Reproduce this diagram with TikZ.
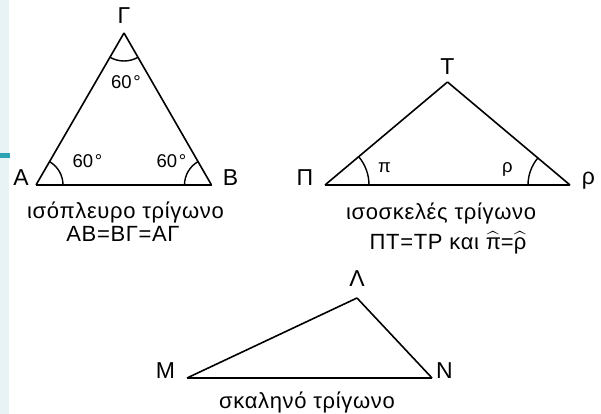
\documentclass[tikz,border=0pt]{standalone}
\usepackage{fontspec}
\setmainfont{Liberation Sans}
\newfontfamily\captfont[LetterSpace=3]{Liberation Sans}
\usepackage{amsmath}
\usepackage{tikz}
\definecolor{stripblue}{HTML}{E8F3F6}
\definecolor{tickteal}{HTML}{2AA3B3}
\newcommand{\anghat}[1]{\ensuremath{\smash{\widehat{\text{#1}}}}}
\newcommand{\degr}{\hspace{1.5pt}°}

\begin{document}
\begin{tikzpicture}[x=1pt, y=1pt]
% Node styles ---
\tikzstyle{vtx} = [inner sep = 0pt, anchor = base, font = \fontsize{23}{27}\selectfont]
\tikzstyle{ang} = [inner sep = 0pt, anchor = base west, font = \fontsize{18.5}{22}\selectfont]
\tikzstyle{capt} = [inner sep = 0pt, anchor = base, font = \captfont\fontsize{22}{26}\selectfont]
\tikzstyle{sid} = [draw = black, line width = 1.6pt, line join = miter]
\tikzstyle{arcl} = [draw = black, line width = 1.4pt]
% Begin Figure ---
\useasboundingbox (0,0) rectangle (601,-414);
\fill [stripblue] (0,0) rectangle (9,-414);
\fill [tickteal] (0,-153) rectangle (9.5,-157.5);
% Vertices
\coordinate (A) at (36,-185);
\coordinate (B) at (211.5,-185);
\coordinate (G) at (124,-33);
\coordinate (P) at (325,-185);
\coordinate (R) at (570,-185);
\coordinate (T) at (447.5,-82);
\coordinate (M) at (187,-378);
\coordinate (N) at (432,-378);
\coordinate (L) at (357,-298);
% Nodes
\node at (124,-24) [vtx] (lG) {Γ};
\node at (21,-185) [vtx] (lA) {Α};
\node at (230.5,-185) [vtx] (lB) {Β};
\node at (111,-89) [ang] (aG) {60\degr};
\node at (72.5,-167) [ang] (aA) {60\degr};
\node at (156.5,-167) [ang] (aB) {60\degr};
\node at (125.5,-218.5) [capt] (c1) {ισόπλευρο τρίγωνο};
\node at (123,-241.5) [capt] (d1) {ΑΒ=ΒΓ=ΑΓ};
\node at (447.5,-75) [vtx] (lT) {Τ};
\node at (305,-185.5) [vtx] (lP) {Π};
\node at (588.5,-184) [vtx] (lR) {ρ};
\node at (378,-172) [ang] (aP) {π};
\node at (502,-172) [ang] (aR) {ρ};
\node at (441,-219) [capt] (c2) {ισοσκελές τρίγωνο};
\node at (448,-249) [capt] (d2) {ΠΤ=ΤΡ και \anghat{π}=\anghat{ρ}};
\node at (357,-286) [vtx] (lL) {Λ};
\node at (165.5,-378.5) [vtx] (lM) {Μ};
\node at (444.5,-378.5) [vtx] (lN) {Ν};
\node at (307,-408) [capt] (c3) {σκαληνό τρίγωνο};
% Paths
\path (A) edge [sid] (B);
\path (B) edge [sid] (G);
\path (G) edge [sid] (A);
\path (P) edge [sid] (R);
\path (R) edge [sid] (T);
\path (T) edge [sid] (P);
\path (M) edge [sid] (N);
\path (N) edge [sid] (L);
\path (L) edge [sid] (M);
% angle marks
\draw [arcl] ([shift={(0:27pt)}]A) arc (0:60:27pt);
\draw [arcl] ([shift={(120:27pt)}]B) arc (120:180:27pt);
\draw [arcl] ([shift={(240:28pt)}]G) arc (240:300:28pt);
\draw [arcl] ([shift={(0:44pt)}]P) arc (0:40:44pt);
\draw [arcl] ([shift={(140:42pt)}]R) arc (140:180:42pt);
\end{tikzpicture}
\end{document}
